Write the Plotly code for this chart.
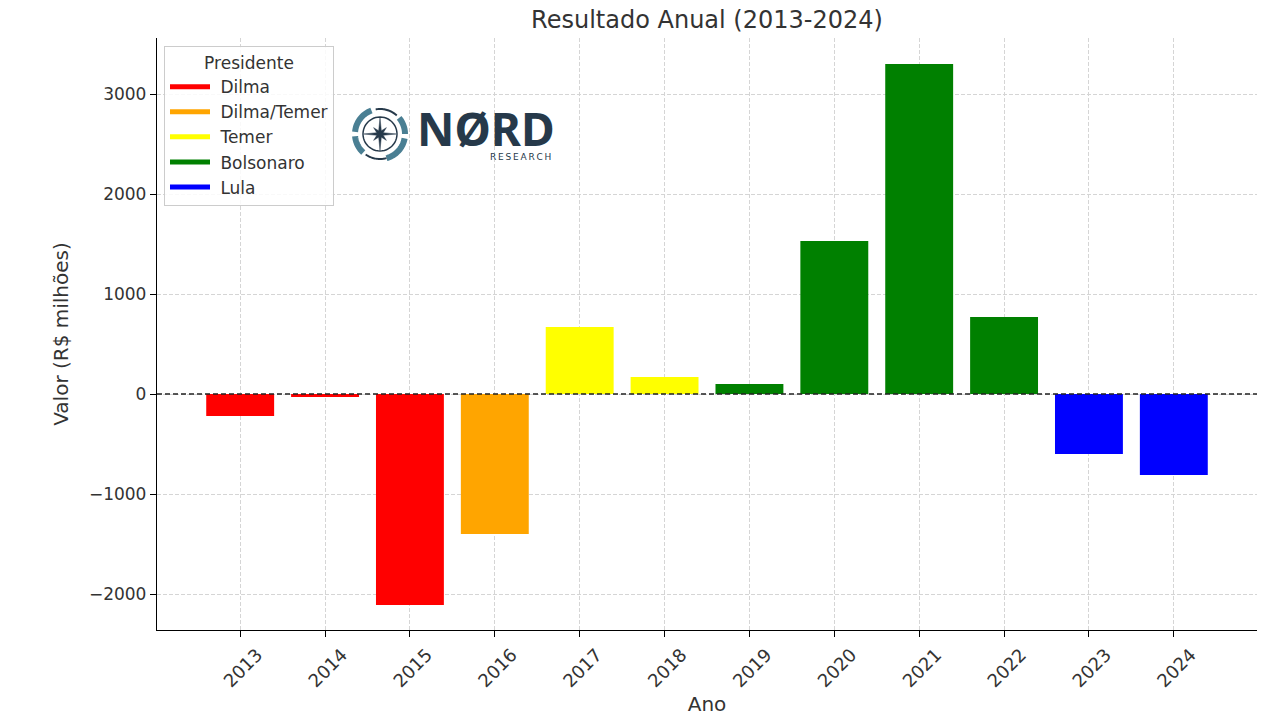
import math
import plotly.graph_objects as go

anos = ["2013", "2014", "2015", "2016", "2017", "2018", "2019", "2020", "2021", "2022", "2023", "2024"]
valores = [-220, -30, -2110, -1400, 670, 170, 100, 1530, 3300, 770, -600, -810]
presidentes = ["Dilma", "Dilma", "Dilma", "Dilma/Temer", "Temer", "Temer", "Bolsonaro",
               "Bolsonaro", "Bolsonaro", "Bolsonaro", "Lula", "Lula"]
legenda = ["Dilma", "Dilma/Temer", "Temer", "Bolsonaro", "Lula"]
cores = {"Dilma": "#ff0000", "Dilma/Temer": "#ffa500", "Temer": "#ffff00",
         "Bolsonaro": "#008000", "Lula": "#0000ff"}

FONT = "DejaVu Sans"
TXT = "#333333"
OFF = 8  # page body margin
W, H = 1280 - OFF, 720 - OFF
L, R, T, B = 157, 1257, 38, 630  # plot area in page pixels


def px(x, y):
    return (x - L) / (R - L), (B - y) / (B - T)


fig = go.Figure()
fig.add_trace(go.Bar(
    x=anos, y=valores,
    marker=dict(color=[cores[p] for p in presidentes], line=dict(width=0)),
    width=0.8, showlegend=False,
))
for p in legenda:
    fig.add_trace(go.Scatter(x=[None], y=[None], mode="lines", name=" " + p,
                             line=dict(color=cores[p], width=5)))

shapes = [dict(type="line", xref="paper", x0=0, x1=1, yref="y", y0=0, y1=0,
               line=dict(color="#222222", width=1.4, dash="5px,3px"), layer="above")]

# logo: compass ring
cx, cy, rr = 380, 134, 25


def arc(a0, a1, r, n=24):
    pts = []
    for i in range(n + 1):
        a = math.radians(a0 + (a1 - a0) * i / n)
        pts.append(px(cx + r * math.cos(a), cy - r * math.sin(a)))
    return "M " + " L ".join(f"{x:.5f},{y:.5f}" for x, y in pts)


for a0, a1 in [(110, 175), (185, 228), (-75, -10), (0, 40)]:
    shapes.append(dict(type="path", xref="paper", yref="paper", path=arc(a0, a1, rr),
                       line=dict(color="#4a7f93", width=6), layer="above"))
for a0, a1 in [(48, 100), (235, 285)]:
    shapes.append(dict(type="path", xref="paper", yref="paper", path=arc(a0, a1, rr),
                       line=dict(color="#26394a", width=2), layer="above"))
shapes.append(dict(type="path", xref="paper", yref="paper", path=arc(0, 360, 17, 48),
                   line=dict(color="#26394a", width=1.5), layer="above"))
star = []
for i in range(16):
    ang = math.radians(90 + i * 22.5)
    r = 16 if i % 4 == 0 else (9 if i % 2 == 0 else 3.5)
    star.append(px(cx + r * math.cos(ang), cy - r * math.sin(ang)))
shapes.append(dict(type="path", xref="paper", yref="paper",
                   path="M " + " L ".join(f"{x:.5f},{y:.5f}" for x, y in star) + " Z",
                   fillcolor="#26394a", line=dict(color="#26394a", width=0.5), layer="above"))

nx, ny = px(486, 128)
rx, ry = px(520, 156)
annotations = [
    dict(text="<b>NØRD</b>", x=nx, y=ny, xref="paper", yref="paper", showarrow=False,
         font=dict(family="Noto Sans", size=46, color="#26394a"), xanchor="center", yanchor="middle",
         height=44, valign="middle"),
    dict(text="\u2009".join("RESEARCH"), x=rx, y=ry, xref="paper", yref="paper", showarrow=False,
         font=dict(family="DejaVu Sans", size=9, color="#26394a"), xanchor="center", yanchor="middle",
         height=11),
]

lx, ly = px(164, 46)
fig.update_layout(
    width=W, height=H,
    margin=dict(l=L - OFF, r=W - (R - OFF), t=T - OFF, b=H - (B - OFF), autoexpand=False),
    paper_bgcolor="white", plot_bgcolor="white",
    font=dict(family=FONT, size=16, color=TXT),
    title=dict(text="Resultado Anual (2013-2024)", x=((L + R) / 2 - OFF) / W, xanchor="center",
               y=1 - 3 / H, yanchor="top", pad=dict(t=0), font=dict(size=24, color=TXT)),
    xaxis=dict(
        type="category", range=[-0.98, 11.98],
        showline=True, linecolor="black", linewidth=1.3, mirror=False,
        ticks="outside", ticklen=6, tickcolor="black", tickangle=-45,
        tickfont=dict(size=18), ticklabelshift=17,
        showgrid=True, gridcolor="#d5d5d5", griddash="4px,2px", gridwidth=1,
        title=dict(text="Ano", font=dict(size=20), standoff=6),
    ),
    yaxis=dict(
        range=[-2360, 3560], tickvals=[-2000, -1000, 0, 1000, 2000, 3000],
        ticktext=["−2000", "−1000", "0", "1000", "2000", "3000"],
        showline=True, linecolor="black", linewidth=1.3,
        ticks="outside", ticklen=6, tickcolor="black",
        tickfont=dict(size=17),
        showgrid=True, gridcolor="#d5d5d5", griddash="4px,2px", gridwidth=1,
        zeroline=False,
        title=dict(text="Valor (R$ milhões)", font=dict(size=20), standoff=14),
    ),
    legend=dict(
        x=lx, y=ly, xanchor="left", yanchor="top",
        bgcolor="rgba(255,255,255,0.85)", bordercolor="#cccccc", borderwidth=1,
        title=dict(text="Presidente", side="top center", font=dict(size=17)),
        font=dict(size=17), itemwidth=40, tracegroupgap=0,
    ),
    shapes=shapes,
    annotations=annotations,
    bargap=0.2,
)

fig.write_html("out.html")
